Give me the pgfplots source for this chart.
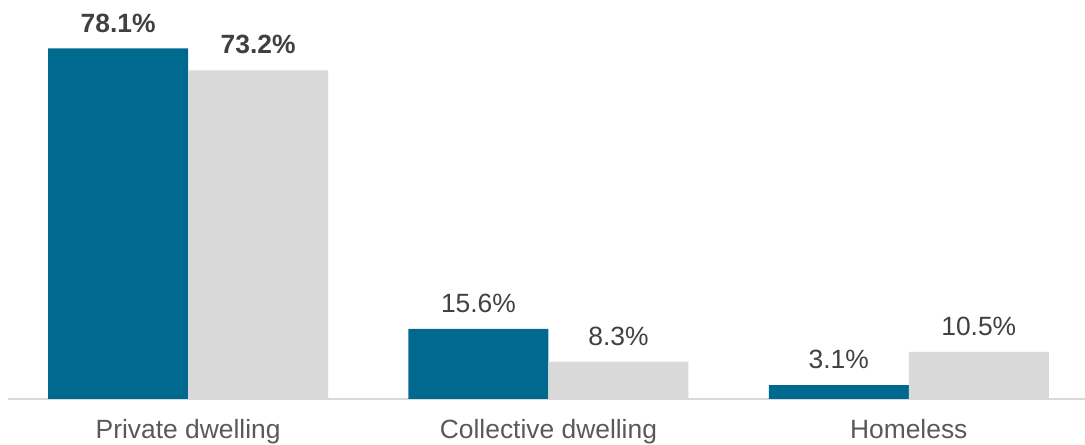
\documentclass[border=0pt]{standalone}
\usepackage{pgfplots}
\pgfplotsset{compat=1.18}
\usepackage{fontspec}
\setmainfont{Liberation Sans}
\definecolor{teal1}{HTML}{006990}
\definecolor{lg}{HTML}{D9D9D9}
\definecolor{txt}{HTML}{404040}
\definecolor{tickc}{HTML}{595959}
\begin{document}
\begin{tikzpicture}
\begin{axis}[
  at={(6pt,34.5pt)}, anchor=south west,
  scale only axis, width=807.975pt, height=296.34pt,
  xmin=-0.5, xmax=2.49, ymin=0, ymax=88,
  ybar=0pt, bar width=105pt,
  axis y line=none, axis x line*=bottom,
  x axis line style={lg, line width=1.5pt},
  xtick={0,1,2}, xticklabels={Private dwelling, Collective dwelling, Homeless},
  major tick length=0pt,
  xticklabel style={font=\fontsize{19.8}{22}\selectfont, text=tickc, yshift=-12pt},
  point meta=explicit symbolic,
  nodes near coords,
  every node near coord/.append style={font=\fontsize{19.8}{22}\selectfont, text=txt, anchor=south, yshift=8.5pt},
  clip=false,
]
\addplot[fill=teal1, draw=none] coordinates {(0,78.1) [\textbf{78.1\%}] (1,15.6) [15.6\%] (2,3.1) [3.1\%]};
\addplot[fill=lg, draw=none] coordinates {(0,73.2) [\textbf{73.2\%}] (1,8.3) [8.3\%] (2,10.5) [10.5\%]};
\end{axis}
\pgfresetboundingbox
\path (0pt,0pt) rectangle (813.75pt,333.75pt);
\end{tikzpicture}
\end{document}
